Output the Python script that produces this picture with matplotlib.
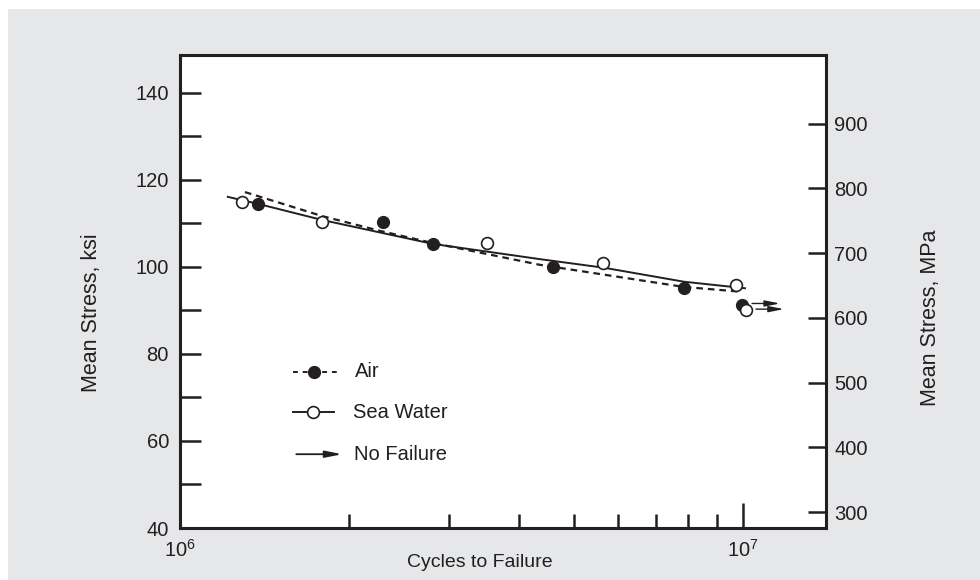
import numpy as np
import matplotlib
matplotlib.use("Agg")
import matplotlib.pyplot as plt
from matplotlib.patches import Rectangle

plt.rcParams["font.family"] = ["Liberation Sans", "DejaVu Sans"]
plt.rcParams["mathtext.fontset"] = "custom"
plt.rcParams["mathtext.rm"] = "Liberation Sans"
plt.rcParams["mathtext.default"] = "regular"

ink = "#231f20"
panel = "#e6e7e8"

# test points (cycles, ksi)
air_cycles = [1.376e6, 2.29e6, 2.81e6, 4.6e6, 7.85e6]
air_stress = [114.5, 110.4, 105.3, 100.0, 95.2]
sea_cycles = [1.29e6, 1.79e6, 3.51e6, 5.65e6, 9.71e6]
sea_stress = [115.0, 110.3, 105.5, 100.9, 95.9]

# run-outs (no failure)
air_runout = (9.96e6, 91.3)
sea_runout = (1.012e7, 90.0)

# fitted curves
air_fit_cycles = [1.304e6, 1.787e6, 2.263e6, 2.81e6, 4.35e6, 7.85e6, 9.92e6]
air_fit_stress = [117.2, 111.7, 108.3, 105.5, 100.5, 95.4, 94.3]
sea_fit_cycles = [1.216e6, 1.375e6, 1.787e6, 2.81e6, 4.35e6, 5.67e6, 7.85e6, 1.008e7]
sea_fit_stress = [116.1, 114.5, 110.8, 105.3, 101.8, 99.8, 96.6, 95.1]

ksi_ticks = [40, 60, 80, 100, 120, 140]
ksi_minor = [50, 70, 90, 110, 130]
mpa_ticks = [300, 400, 500, 600, 700, 800, 900]

fig = plt.figure(figsize=(9.8, 5.8), dpi=100, facecolor="white")
fig.patches.append(Rectangle((8 / 980, 0), 1, 1 - 9 / 580, transform=fig.transFigure,
                             facecolor=panel, edgecolor="none", zorder=-10))

ax = fig.add_axes([180 / 980, 52 / 580, 646 / 980, 473 / 580])
ax.set_facecolor("white")
ax.set_xscale("log")
ax.set_xlim(1e6, 1.404e7)
ax.set_ylim(40, 148.7)

ax.plot(sea_fit_cycles, sea_fit_stress, color=ink, lw=1.4, zorder=2)
ax.plot(air_fit_cycles, air_fit_stress, color=ink, lw=1.6, dashes=(3, 2.2), zorder=2)
ax.plot(air_cycles, air_stress, "o", ms=8.5, color=ink, zorder=3)
ax.plot(sea_cycles, sea_stress, "o", ms=8.5, mfc="white", mec=ink, mew=1.2, zorder=3)
ax.plot(*air_runout, "o", ms=8.5, color=ink, zorder=3)
ax.plot(*sea_runout, "o", ms=8.5, mfc="white", mec=ink, mew=1.2, zorder=4)

for n, s in [air_runout, sea_runout]:
    ax.annotate("", xy=(n * 10 ** (38 / 563), s + 0.3), xytext=(n * 10 ** (10 / 563), s + 0.3),
                arrowprops=dict(arrowstyle="-|>,head_length=0.9,head_width=0.18",
                                color=ink, lw=1.0, shrinkA=0, shrinkB=0))

# legend
tr = ax.transAxes
ax.plot([0.175, 0.245], [0.330, 0.330], transform=tr, color=ink, lw=1.4, dashes=(2.5, 2.5))
ax.plot([0.207], [0.330], "o", transform=tr, ms=8.5, color=ink)
ax.plot([0.175, 0.238], [0.245, 0.245], transform=tr, color=ink, lw=1.4)
ax.plot([0.206], [0.245], "o", transform=tr, ms=8.5, mfc="white", mec=ink, mew=1.2)
ax.annotate("", xy=(0.251, 0.156), xytext=(0.180, 0.156), xycoords=tr, textcoords=tr,
            arrowprops=dict(arrowstyle="-|>,head_length=1.0,head_width=0.2",
                            color=ink, lw=1.3, shrinkA=0, shrinkB=0))
ax.text(0.271, 0.330, "Air", transform=tr, va="center", fontsize=14.5, color=ink)
ax.text(0.268, 0.245, "Sea Water", transform=tr, va="center", fontsize=14.5, color=ink)
ax.text(0.269, 0.156, "No Failure", transform=tr, va="center", fontsize=14.5, color=ink)

for sp in ax.spines.values():
    sp.set_linewidth(2.2)
    sp.set_color(ink)

ax.set_yticks(ksi_ticks)
ax.set_yticks(ksi_minor, minor=True)
ax.tick_params(axis="y", which="both", direction="in", length=15, width=1.8,
               color=ink, labelsize=14.5, labelcolor=ink, pad=8, right=False)
ax.set_xticks([1e6, 1e7])
ax.set_xticklabels([r"$10^6$", r"$10^7$"])
ax.set_xticks([k * 1e6 for k in range(2, 10)], minor=True)
ax.xaxis.set_minor_formatter(plt.NullFormatter())
ax.tick_params(axis="x", which="major", direction="in", length=18, width=1.8,
               color=ink, labelsize=14.5, labelcolor=ink, pad=8, top=False)
ax.tick_params(axis="x", which="minor", direction="in", length=10, width=1.8,
               color=ink, top=False)

ax2 = ax.twinx()
ax2.set_ylim(275.3, 1006)
ax2.set_yticks(mpa_ticks)
ax2.tick_params(axis="y", direction="in", length=13, width=1.8, color=ink,
                labelsize=14.5, labelcolor=ink, pad=6)
for sp in ax2.spines.values():
    sp.set_visible(False)

ax.set_ylabel("Mean Stress, ksi", fontsize=15.5, color=ink)
ax.yaxis.set_label_coords(-0.121, 0.455)
ax2.set_ylabel("Mean Stress, MPa", fontsize=15.5, color=ink)
ax2.yaxis.set_label_coords(1.145, 0.445)
ax.set_xlabel("Cycles to Failure", fontsize=14, color=ink)
ax.xaxis.set_label_coords(0.464, -0.055)

fig.savefig("out.png", dpi=100)
